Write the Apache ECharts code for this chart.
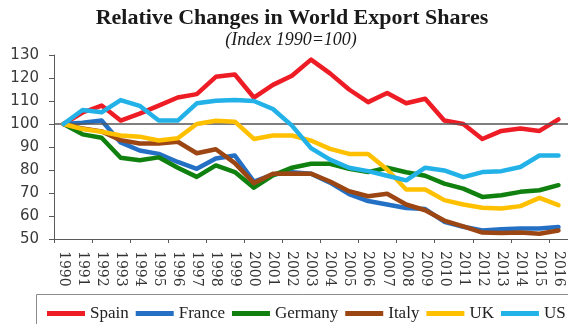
<!DOCTYPE html>
<html>
<head>
<meta charset="utf-8">
<script src="https://cdn.jsdelivr.net/npm/echarts@6/dist/echarts.min.js"></script>
<style>
  html, body { margin: 0; padding: 0; background: #ffffff; }
  #chart { width: 568px; height: 324px; }
</style>
</head>
<body>
<div id="chart"></div>
<script>
// Export share index per country, 1990 = 100
const years = ['1990','1991','1992','1993','1994','1995','1996','1997','1998','1999',
  '2000','2001','2002','2003','2004','2005','2006','2007','2008','2009',
  '2010','2011','2012','2013','2014','2015','2016'];

const spain   = [100, 105, 108, 101.5, 104.5, 108, 111.5, 113, 120.5, 121.5, 111.5, 117, 121, 128, 122, 115, 109.5, 113.5, 109, 111, 101.5, 100, 93.5, 97, 98, 97, 102];
const france  = [100, 100.5, 101.5, 92, 88.5, 87, 83.5, 80.5, 85, 86.3, 75, 78, 79, 78.4, 74.5, 69.5, 66.5, 65, 63.5, 63, 57.5, 55.3, 53.7, 54.2, 54.6, 54.6, 55.2];
const germany = [100, 95.5, 94, 85.3, 84.2, 85.5, 81, 77, 82, 79.1, 72.3, 77.7, 81, 82.7, 82.7, 80.5, 79.1, 81, 79, 77.5, 74.1, 71.9, 68.3, 69, 70.5, 71.2, 73.4];
const italy   = [100, 98, 96.8, 93, 91.5, 91.5, 92.3, 87.3, 89, 83, 74.3, 78.4, 78.5, 78.4, 75, 70.8, 68.6, 69.7, 65, 62.5, 58, 55.5, 52.8, 52.6, 52.8, 52.3, 53.7];
const uk      = [100, 97.8, 96.6, 95, 94.5, 92.8, 93.8, 100, 101.4, 101, 93.5, 95, 95, 92.8, 89.2, 87, 87, 80.2, 71.5, 71.5, 66.9, 65, 63.6, 63.3, 64.3, 67.9, 64.7];
const us      = [100, 106.1, 105.1, 110.4, 107.9, 101.5, 101.5, 109, 110.1, 110.4, 110, 106.5, 99.3, 89.5, 84.5, 81, 79.5, 77.5, 75.5, 81, 79.8, 76.9, 79.1, 79.5, 81.3, 86.3, 86.3];

const baseIndex = 100;
const yMin = 50, yMax = 130, yStep = 10;

const countries = ['Spain', 'France', 'Germany', 'Italy', 'UK', 'US'];
const values = [spain, france, germany, italy, uk, us];
const colors = ['#ee1c25', '#2470c4', '#10800f', '#9c4614', '#ffc000', '#22b2e8'];

const chart = echarts.init(document.getElementById('chart'), null, { renderer: 'canvas' });

const lineSeries = countries.map((name, i) => ({
  name: name,
  type: 'line',
  data: values[i],
  symbol: 'none',
  smooth: false,
  z: 3 + i,
  itemStyle: { color: colors[i] },
  lineStyle: { color: colors[i], width: 4.5, cap: 'round', join: 'round' }
}));

chart.setOption({
  animation: false,
  backgroundColor: '#ffffff',
  graphic: [
    {
      type: 'text', x: 292, y: 18, z: 10,
      style: {
        text: 'Relative Changes in World Export Shares',
        font: 'bold 22px "Liberation Serif", serif',
        fill: '#1a1a1a', textAlign: 'center', textVerticalAlign: 'middle'
      }
    },
    {
      type: 'text', x: 291, y: 40, z: 10,
      style: {
        text: '(Index 1990=100)',
        font: 'italic 18px "Liberation Serif", serif',
        fill: '#1a1a1a', textAlign: 'center', textVerticalAlign: 'middle'
      }
    },
    {
      type: 'rect', z: 1,
      shape: { x: 36.5, y: 294.5, width: 540, height: 40 },
      style: { fill: 'none', stroke: '#8c8c8c', lineWidth: 1 }
    }
  ],
  grid: { left: 54, right: -4, top: 55, bottom: 85 },
  legend: {
    data: countries,
    left: 47, top: 305,
    padding: 0,
    itemGap: 7,
    itemWidth: 38, itemHeight: 5,
    icon: 'rect',
    textStyle: { fontFamily: '"Liberation Serif", serif', fontSize: 17, color: '#222' }
  },
  xAxis: {
    type: 'category',
    data: years,
    boundaryGap: true,
    axisLine: { lineStyle: { color: '#5a5a5a', width: 1 } },
    axisTick: { show: true, interval: 1, length: 4, lineStyle: { color: '#5a5a5a' } },
    axisLabel: {
      interval: 0, rotate: -90, margin: 12,
      fontFamily: '"DejaVu Serif", serif', fontSize: 14, color: '#333'
    },
    splitLine: { show: false }
  },
  yAxis: {
    type: 'value',
    min: yMin, max: yMax, interval: yStep,
    axisLine: { show: true, lineStyle: { color: '#5a5a5a', width: 1 } },
    axisTick: { show: true, length: 5, lineStyle: { color: '#5a5a5a' } },
    axisLabel: { margin: 15, fontFamily: '"DejaVu Sans", sans-serif', fontSize: 15, color: '#3a3a3a' },
    splitLine: { show: false }
  },
  series: [
    {
      name: 'base',
      type: 'line',
      data: [],
      z: 2,
      markLine: {
        silent: true,
        symbol: 'none',
        label: { show: false },
        lineStyle: { color: '#555555', width: 1.5, type: 'solid' },
        data: [{ yAxis: baseIndex }]
      }
    }
  ].concat(lineSeries)
});
</script>
</body>
</html>
